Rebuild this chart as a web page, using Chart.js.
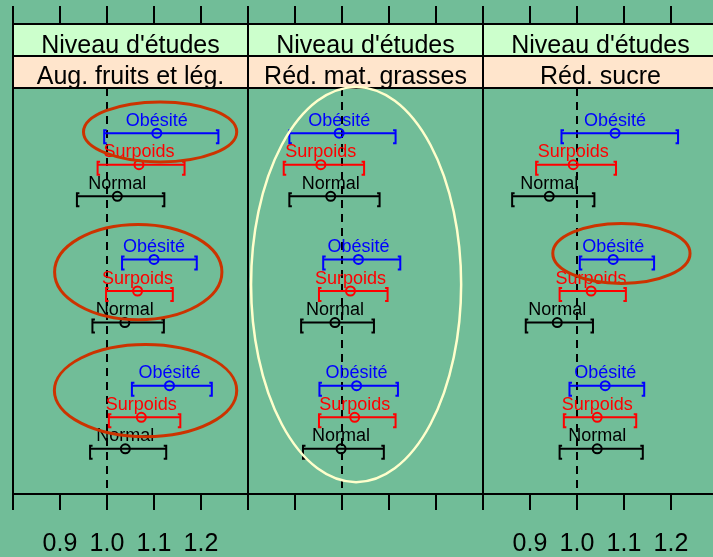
<!DOCTYPE html>
<html>
<head>
<meta charset="utf-8">
<script src="https://cdn.jsdelivr.net/npm/chart.js@4.4.1/dist/chart.umd.min.js"></script>
<style>
  html, body { margin: 0; padding: 0; background: #71bd98; }
  #wrap { position: relative; width: 713px; height: 557px; overflow: hidden; background: #71bd98; }
  #wrap canvas { position: absolute; top: 0; }
</style>
</head>
<body>
<div id="wrap"></div>
<script>
// ---- data ----
const stripTitle = "Niveau d'études";
const panelNames = ["Aug. fruits et lég.", "Réd. mat. grasses", "Réd. sucre"];
const groupNames = ["Obésité", "Surpoids", "Normal"];
// row of each estimate (three blocks of Obésité / Surpoids / Normal)
const rowIndex = [1, 2, 3, 5, 6, 7, 9, 10, 11];
const rowGroup = [0, 1, 2, 0, 1, 2, 0, 1, 2];

const fruitsOR   = [1.106, 1.068, 1.022, 1.100, 1.065, 1.038, 1.133, 1.073, 1.039];
const fruitsLow  = [0.994, 0.980, 0.936, 1.032, 0.998, 0.969, 1.053, 1.004, 0.964];
const fruitsHigh = [1.237, 1.165, 1.122, 1.191, 1.140, 1.121, 1.223, 1.156, 1.126];

const fatOR   = [0.994, 0.955, 0.976, 1.035, 1.018, 0.985, 1.031, 1.027, 0.998];
const fatLow  = [0.888, 0.876, 0.888, 0.960, 0.951, 0.913, 0.952, 0.951, 0.917];
const fatHigh = [1.114, 1.047, 1.080, 1.124, 1.097, 1.068, 1.119, 1.114, 1.089];

const sugarOR   = [1.081, 0.992, 0.941, 1.077, 1.030, 0.958, 1.060, 1.043, 1.043];
const sugarLow  = [0.967, 0.913, 0.862, 1.006, 0.963, 0.891, 0.984, 0.972, 0.963];
const sugarHigh = [1.215, 1.083, 1.037, 1.164, 1.104, 1.034, 1.143, 1.126, 1.140];

const xTicks = [0.8, 0.9, 1.0, 1.1, 1.2, 1.3];
const xLabelValues = [0.9, 1.0, 1.1, 1.2];
const xTickLabels = ["0.9", "1.0", "1.1", "1.2"];
const refValue = 1.0;

// ---- highlight ellipses (data units: centre x, centre row, half-width, half-height) ----
const highlights = [
  { color: "#cc3300", width: 3, shapes: [
    { cx: 1.113, cy: 0.96, rx: 0.163, ry: 0.95 },
    { cx: 1.0665, cy: 5.40, rx: 0.178, ry: 1.51 },
    { cx: 1.082, cy: 9.155, rx: 0.194, ry: 1.46 } ] },
  { color: "#ffffcc", width: 2.5, shapes: [
    { cx: 1.030, cy: 5.795, rx: 0.2235, ry: 6.26 } ] },
  { color: "#cc3300", width: 3, shapes: [
    { cx: 1.0945, cy: 4.81, rx: 0.146, ry: 0.95 } ] }
];

// ---- layout / style ----
const FONT = '"Liberation Sans", Arial, sans-serif';
const groupColors = ["#0000ff", "#ff0000", "#000000"];
const panelLeft = [13, 248, 483];
const panelWidth = 235;
const margin = 12;
const stripTop = 24, stripMid = 56, plotTop = 88, plotBottom = 494;
const tickTop = 6, tickBottom = 510;
const showBottomLabels = [true, false, true];

const panels = [
  { or: fruitsOR, lo: fruitsLow, hi: fruitsHigh },
  { or: fatOR, lo: fatLow, hi: fatHigh },
  { or: sugarOR, lo: sugarLow, hi: sugarHigh }
];

function line(ctx, x1, y1, x2, y2) {
  ctx.beginPath(); ctx.moveTo(x1, y1); ctx.lineTo(x2, y2); ctx.stroke();
}

const panelDecor = {
  id: 'panelDecor',
  beforeDraw(chart, args, opts) {
    const { ctx, chartArea: a } = chart;
    ctx.save();
    ctx.fillStyle = '#ccffcc';
    ctx.fillRect(a.left, stripTop, a.right - a.left, stripMid - stripTop);
    ctx.fillStyle = '#ffe5cc';
    ctx.fillRect(a.left, stripMid, a.right - a.left, plotTop - stripMid);
    ctx.fillStyle = '#000';
    ctx.font = '25px ' + FONT;
    ctx.textAlign = 'center';
    ctx.textBaseline = 'alphabetic';
    const cx = (a.left + a.right) / 2;
    ctx.fillText(stripTitle, cx, 53);
    ctx.fillText(opts.name, cx, 84);
    // reference line
    const xs = chart.scales.x;
    ctx.strokeStyle = '#000';
    ctx.lineWidth = 2;
    ctx.setLineDash([8, 6]);
    const rx = Math.round(xs.getPixelForValue(refValue));
    line(ctx, rx, plotTop, rx, plotBottom);
    ctx.setLineDash([]);
    ctx.restore();
  },
  afterDatasetsDraw(chart, args, opts) {
    const { ctx } = chart;
    const xs = chart.scales.x, ys = chart.scales.y;
    const d = opts.data;
    ctx.save();
    // bracket caps and group labels
    ctx.lineWidth = 2;
    ctx.font = '18px ' + FONT;
    ctx.textAlign = 'center';
    ctx.textBaseline = 'alphabetic';
    rowIndex.forEach((r, i) => {
      const col = groupColors[rowGroup[i]];
      const y = ys.getPixelForValue(r);
      const xl = xs.getPixelForValue(d.lo[i]);
      const xh = xs.getPixelForValue(d.hi[i]);
      ctx.strokeStyle = col;
      ctx.beginPath();
      ctx.moveTo(xl + 2.5, y - 3); ctx.lineTo(xl, y - 3); ctx.lineTo(xl, y + 10); ctx.lineTo(xl + 2.5, y + 10);
      ctx.moveTo(xh - 2.5, y - 3); ctx.lineTo(xh, y - 3); ctx.lineTo(xh, y + 10); ctx.lineTo(xh - 2.5, y + 10);
      ctx.stroke();
      ctx.fillStyle = col;
      ctx.fillText(groupNames[rowGroup[i]], xs.getPixelForValue(d.or[i]), y - 7.5);
    });
    ctx.restore();
  },
  afterDraw(chart, args, opts) {
    const { ctx, chartArea: a } = chart;
    const xs = chart.scales.x, ys = chart.scales.y;
    ctx.save();
    ctx.strokeStyle = '#000';
    ctx.lineWidth = 2;
    line(ctx, a.left - 1, stripTop, a.right + 1, stripTop);
    line(ctx, a.left - 1, stripMid, a.right + 1, stripMid);
    line(ctx, a.left - 1, plotTop, a.right + 1, plotTop);
    line(ctx, a.left - 1, plotBottom, a.right + 1, plotBottom);
    line(ctx, a.left, stripTop, a.left, plotBottom);
    line(ctx, a.right, stripTop, a.right, plotBottom);
    xTicks.forEach(v => {
      const x = Math.round(xs.getPixelForValue(v));
      line(ctx, x, tickTop, x, stripTop);
      line(ctx, x, plotBottom, x, tickBottom);
    });
    if (opts.bottomLabels) {
      ctx.fillStyle = '#000';
      ctx.font = '25px ' + FONT;
      ctx.textAlign = 'center';
      ctx.textBaseline = 'alphabetic';
      xLabelValues.forEach((v, k) => ctx.fillText(xTickLabels[k], xs.getPixelForValue(v), 551));
    }
    // highlight ellipses
    const h = opts.highlight;
    ctx.strokeStyle = h.color;
    ctx.lineWidth = h.width;
    h.shapes.forEach(s => {
      const cx = xs.getPixelForValue(s.cx), cy = ys.getPixelForValue(s.cy);
      const rxp = Math.abs(xs.getPixelForValue(s.cx + s.rx) - cx);
      const ryp = Math.abs(ys.getPixelForValue(s.cy + s.ry) - cy);
      ctx.beginPath();
      ctx.ellipse(cx, cy, rxp, ryp, 0, 0, Math.PI * 2);
      ctx.stroke();
    });
    ctx.restore();
  }
};

const wrap = document.getElementById('wrap');
panels.forEach((p, k) => {
  const cv = document.createElement('canvas');
  cv.width = panelWidth + 2 * margin;
  cv.height = 557;
  cv.style.left = (panelLeft[k] - margin) + 'px';
  cv.style.width = cv.width + 'px';
  cv.style.height = '557px';
  wrap.appendChild(cv);

  const datasets = [];
  rowIndex.forEach((r, i) => {
    datasets.push({
      type: 'scatter', showLine: true,
      data: [{ x: p.lo[i], y: r }, { x: p.hi[i], y: r }],
      borderColor: groupColors[rowGroup[i]], borderWidth: 2,
      pointRadius: 0, order: 2
    });
  });
  groupNames.forEach((g, gi) => {
    const pts = [];
    rowIndex.forEach((r, i) => { if (rowGroup[i] === gi) pts.push({ x: p.or[i], y: r }); });
    datasets.push({
      type: 'scatter', label: g, data: pts,
      pointStyle: 'circle', pointRadius: 4.5, borderWidth: 2,
      borderColor: groupColors[gi], backgroundColor: 'rgba(0,0,0,0)', order: 1
    });
  });

  new Chart(cv, {
    type: 'scatter',
    data: { datasets },
    options: {
      responsive: false, animation: false, devicePixelRatio: 1, events: [],
      layout: { padding: { left: margin, right: margin, top: plotTop, bottom: 557 - plotBottom } },
      scales: {
        x: { type: 'linear', min: 0.8, max: 1.3, display: false },
        y: { type: 'linear', min: -0.43, max: 12.43, reverse: true, display: false }
      },
      plugins: {
        legend: { display: false }, tooltip: { enabled: false },
        panelDecor: { name: panelNames[k], data: p, bottomLabels: showBottomLabels[k], highlight: highlights[k] }
      }
    },
    plugins: [panelDecor]
  });
});
</script>
</body>
</html>
